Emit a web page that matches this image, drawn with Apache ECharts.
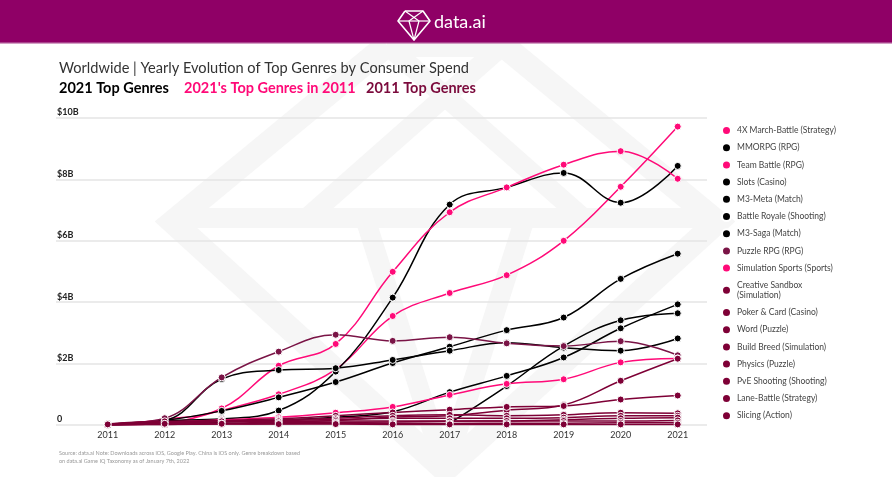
<!DOCTYPE html>
<html><head><meta charset="utf-8">
<script src="https://cdn.jsdelivr.net/npm/echarts@6/dist/echarts.min.js"></script>
<style>html,body{margin:0;padding:0;background:#fff}#c{width:892px;height:477px}</style>
</head><body><div id="c"></div>
<script>
const years = [2011, 2012, 2013, 2014, 2015, 2016, 2017, 2018, 2019, 2020, 2021];
const yTicks = [0, 2, 4, 6, 8, 10];

const marchBattle4X   = [0.01, 0.06, 0.48, 1.00, 1.81, 3.55, 4.30, 4.88, 6.00, 7.76, 9.72];
const mmorpg          = [0.02, 0.14, 0.20, 0.47, 1.74, 4.15, 7.18, 7.74, 8.21, 7.24, 8.44];
const teamBattle      = [0.02, 0.18, 0.54, 1.93, 2.64, 4.99, 6.93, 7.74, 8.48, 8.92, 8.02];
const slots           = [0.02, 0.15, 0.46, 0.90, 1.40, 2.02, 2.55, 3.09, 3.50, 4.76, 5.58];
const m3Meta          = [0.01, 0.04, 0.10, 0.15, 0.25, 0.43, 1.07, 1.60, 2.20, 3.15, 3.93];
const battleRoyale    = [null, null, null, null, null, null, 0.06, 1.27, 2.57, 3.41, 3.64];
const m3Saga          = [0.02, 0.15, 1.50, 1.79, 1.85, 2.12, 2.42, 2.68, 2.52, 2.42, 2.82];
const puzzleRpg       = [0.03, 0.22, 1.55, 2.39, 2.94, 2.74, 2.86, 2.66, 2.57, 2.73, 2.27];
const simSports       = [0.01, 0.08, 0.17, 0.25, 0.40, 0.59, 0.98, 1.34, 1.49, 2.04, 2.17];
const creativeSandbox = [0.01, 0.02, 0.05, 0.10, 0.15, 0.26, 0.30, 0.48, 0.65, 1.44, 2.16];
const pokerCard       = [0.03, 0.10, 0.15, 0.20, 0.30, 0.41, 0.50, 0.59, 0.62, 0.83, 0.96];
const word            = [0.02, 0.08, 0.12, 0.17, 0.22, 0.30, 0.33, 0.30, 0.33, 0.40, 0.38];
const buildBreed      = [0.02, 0.06, 0.10, 0.14, 0.18, 0.22, 0.22, 0.22, 0.24, 0.30, 0.30];
const physics         = [0.03, 0.12, 0.12, 0.12, 0.13, 0.13, 0.13, 0.13, 0.17, 0.22, 0.24];
const pveShooting     = [0.01, 0.03, 0.05, 0.07, 0.08, 0.10, 0.12, 0.13, 0.13, 0.13, 0.15];
const laneBattle      = [0.01, 0.02, 0.03, 0.04, 0.05, 0.06, 0.05, 0.06, 0.06, 0.07, 0.07];
const slicing         = [0.02, 0.04, 0.04, 0.03, 0.03, 0.02, 0.02, 0.02, 0.02, 0.02, 0.02];

const PINK = '#ff0a78', BLACK = '#000000', MAROON = '#7e0036', PUZZLE = '#7a1446';

const seriesDefs = [
  ['4X March-Battle (Strategy)', marchBattle4X, PINK],
  ['MMORPG (RPG)', mmorpg, BLACK],
  ['Team Battle (RPG)', teamBattle, PINK],
  ['Slots (Casino)', slots, BLACK],
  ['M3-Meta (Match)', m3Meta, BLACK],
  ['Battle Royale (Shooting)', battleRoyale, BLACK],
  ['M3-Saga (Match)', m3Saga, BLACK],
  ['Puzzle RPG (RPG)', puzzleRpg, PUZZLE],
  ['Simulation Sports (Sports)', simSports, PINK],
  ['Creative Sandbox (Simulation)', creativeSandbox, MAROON],
  ['Poker & Card (Casino)', pokerCard, MAROON],
  ['Word (Puzzle)', word, MAROON],
  ['Build Breed (Simulation)', buildBreed, MAROON],
  ['Physics (Puzzle)', physics, MAROON],
  ['PvE Shooting (Shooting)', pveShooting, MAROON],
  ['Lane-Battle (Strategy)', laneBattle, MAROON],
  ['Slicing (Action)', slicing, MAROON]
];

const FONT = 'Lato';
const chart = echarts.init(document.getElementById('c'), null, {renderer: 'canvas'});

const WM = '#f6f6f6';
const option = {
  animation: false,
  backgroundColor: '#ffffff',
  textStyle: {fontFamily: FONT},
  grid: {left: 56, right: 185, top: 118, bottom: 52, containLabel: false},
  xAxis: {
    type: 'value', min: 2010.093, max: 2021.514,
    axisLine: {show: false}, axisTick: {show: false}, splitLine: {show: false},
    axisLabel: {customValues: years, formatter: v => String(v), fontSize: 9, color: '#333', margin: 6, fontFamily: FONT}
  },
  yAxis: {
    type: 'value', min: yTicks[0], max: yTicks[yTicks.length - 1], interval: 2,
    axisLine: {show: false}, axisTick: {show: false},
    splitLine: {lineStyle: {color: '#e4e4e4', width: 1.5}},
    axisLabel: {inside: true, verticalAlign: 'bottom', margin: 1, padding: [0, 0, 1, 0],
      fontSize: 9, color: '#222', fontWeight: 'bold', fontFamily: FONT,
      formatter: v => v === 0 ? '0' : '$' + v + 'B'}
  },
  legend: {
    orient: 'vertical', left: 716, top: 120, icon: 'circle',
    itemWidth: 11, itemHeight: 9, itemGap: 6.2,
    textStyle: {fontSize: 8.5, color: '#444', fontFamily: FONT, lineHeight: 10.5},
    formatter: n => n === 'Creative Sandbox (Simulation)' ? 'Creative Sandbox\n(Simulation)' : n,
    data: seriesDefs.map(d => d[0])
  },
  graphic: [
    // watermark
    {type: 'polyline', z: -10, silent: true,
      shape: {points: [[387, 45], [503, 45], [717, 222], [445, 470], [173, 222], [387, 45]]},
      style: {stroke: WM, lineWidth: 24, fill: null, lineJoin: 'miter'}},
    {type: 'polyline', z: -10, silent: true,
      shape: {points: [[173, 218], [717, 218]]}, style: {stroke: WM, lineWidth: 20, fill: null}},
    {type: 'polyline', z: -10, silent: true,
      shape: {points: [[503, 45], [307, 218]]}, style: {stroke: WM, lineWidth: 20, fill: null}},
    {type: 'polyline', z: -10, silent: true,
      shape: {points: [[387, 45], [583, 218]]}, style: {stroke: WM, lineWidth: 20, fill: null}},
    {type: 'polyline', z: -10, silent: true,
      shape: {points: [[365, 218], [445, 470], [525, 218]]}, style: {stroke: WM, lineWidth: 20, fill: null}},
    // header
    {type: 'rect', z: 10, shape: {x: 0, y: 0, width: 892, height: 42}, style: {fill: '#8f0066'}},
    {type: 'rect', z: 10, shape: {x: 0, y: 42, width: 892, height: 1.5}, style: {fill: '#a8428c'}},
    {type: 'polyline', z: 11, shape: {points: [[405, 11], [423, 11], [430, 21], [414, 40], [398, 21], [405, 11]]},
      style: {stroke: '#fff', lineWidth: 1.6, fill: null, lineJoin: 'round'}},
    {type: 'polyline', z: 11, shape: {points: [[405, 11], [419, 21], [414, 40], [409, 21], [423, 11]]},
      style: {stroke: '#fff', lineWidth: 1.2, fill: null, lineJoin: 'round'}},
    {type: 'polyline', z: 11, shape: {points: [[398, 21], [430, 21]]},
      style: {stroke: '#fff', lineWidth: 1.2, fill: null}},
    {type: 'text', z: 11, x: 434, y: 22, style: {text: 'data.ai', fill: '#fff', font: '18px ' + FONT, verticalAlign: 'middle'}},
    // titles
    {type: 'text', x: 59, y: 68, style: {text: 'Worldwide | Yearly Evolution of Top Genres by Consumer Spend', fill: '#333', font: '14.6px ' + FONT, verticalAlign: 'middle'}},
    {type: 'text', x: 59, y: 88, style: {text: '2021 Top Genres', fill: '#000', font: 'bold 14.5px ' + FONT, verticalAlign: 'middle'}},
    {type: 'text', x: 184, y: 88, style: {text: "2021's Top Genres in 2011", fill: PINK, font: 'bold 14.5px ' + FONT, verticalAlign: 'middle'}},
    {type: 'text', x: 366, y: 88, style: {text: '2011 Top Genres', fill: '#7b0a3c', font: 'bold 14.5px ' + FONT, verticalAlign: 'middle'}},
    // footer
    {type: 'text', x: 59, y: 453, style: {text: 'Source: data.ai Note: Downloads across iOS, Google Play. China is iOS only. Genre breakdown based', fill: '#999', font: '5.5px ' + FONT, verticalAlign: 'middle'}},
    {type: 'text', x: 59, y: 461, style: {text: 'on data.ai Game IQ Taxonomy as of January 7th, 2022', fill: '#999', font: '5.5px ' + FONT, verticalAlign: 'middle'}}
  ],
  series: seriesDefs.map((d, k) => ({
    name: d[0], type: 'line', smooth: 0.4,
    data: years.map((y, i) => [y, d[1][i] === null ? '-' : d[1][i]]),
    symbol: 'circle', symbolSize: 7, showSymbol: true, z: 2 + k * 0.01,
    lineStyle: {width: 1.5, color: d[2]},
    itemStyle: {color: d[2], borderColor: '#fff', borderWidth: 1},
    emphasis: {disabled: true}
  }))
};
chart.setOption(option);
</script>
</body></html>
